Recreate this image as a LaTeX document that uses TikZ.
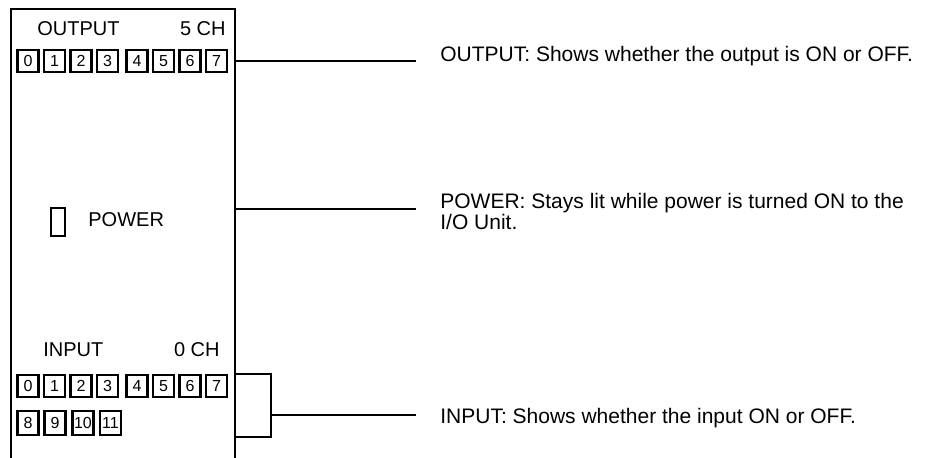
\documentclass[tikz,border=0pt]{standalone}
\usepackage{fontspec}
\setmainfont{Liberation Sans}

\tikzset{
	led/.style={draw, line width=1.2pt, minimum width=10.5pt, minimum height=11pt, inner sep=0pt, font=\fontsize{8}{9}\selectfont},
	tag/.style={inner sep=0pt, font=\fontsize{10}{12}\selectfont},
	note/.style={inner sep=0pt, anchor=base west, align=left, font=\fontsize{10.5}{9}\selectfont},
	wire/.style={line width=1.1pt}
}

\begin{document}
\begin{tikzpicture}[x=0.5pt, y=-0.5pt]
			\useasboundingbox (0,0) rectangle (927,458);
			% unit front
			\draw[wire] (11,458) -- (11,9) -- (235,9) -- (235,458);
			\node[tag, anchor=base west] (outTag) at (37,36) {OUTPUT};
			\node[tag, anchor=base east] (outCh) at (226,36) {5 CH};
			\foreach \n/\x in {0/28,1/54.5,2/81,3/107.5,4/137,5/163.5,6/190,7/216.5}
				\node[led] (out\n) at (\x,61) {\n};
			\node[draw, line width=1.2pt, minimum width=7pt, minimum height=14pt, inner sep=0pt] (pwrLamp) at (58,222) {};
			\node[tag, anchor=base west] (pwrTag) at (88,227) {POWER};
			\node[tag, anchor=base west] (inTag) at (43,357) {INPUT};
			\node[tag, anchor=base east] (inCh) at (220,357) {0 CH};
			\foreach \n/\x in {0/28,1/54.5,2/81,3/107.5,4/137,5/163.5,6/190,7/216.5}
				\node[led] (in\n) at (\x,386) {\n};
			\foreach \n/\x in {8/28,9/55,10/83,11/110.5}
				\node[led, minimum height=12pt] (in\n) at (\x,423) {\n};
			% descriptions
			\node[note] (outDesc) at (440,62) {OUTPUT: Shows whether the output is ON or OFF.};
			\node[note] (pwrDesc) at (440,230) {POWER: Stays lit while power is turned ON to the\\I/O Unit.};
			\node[note] (inDesc) at (440,424) {INPUT: Shows whether the input ON or OFF.};
			\coordinate (outA) at (235,61);
			\coordinate (outB) at (416,61);
			\coordinate (pwrA) at (235,209);
			\coordinate (pwrB) at (416,209);
			\coordinate (inTop) at (235,374);
			\coordinate (inBot) at (235,437);
			\coordinate (inMid) at (271,415);
			\coordinate (inB) at (416,415);
			\draw[wire] (outA) -- (outB);
			\draw[wire] (pwrA) -- (pwrB);
			\draw[wire] (inTop) -| (inMid) |- (inBot);
			\draw[wire] (inMid) -- (inB);
\end{tikzpicture}
\end{document}
